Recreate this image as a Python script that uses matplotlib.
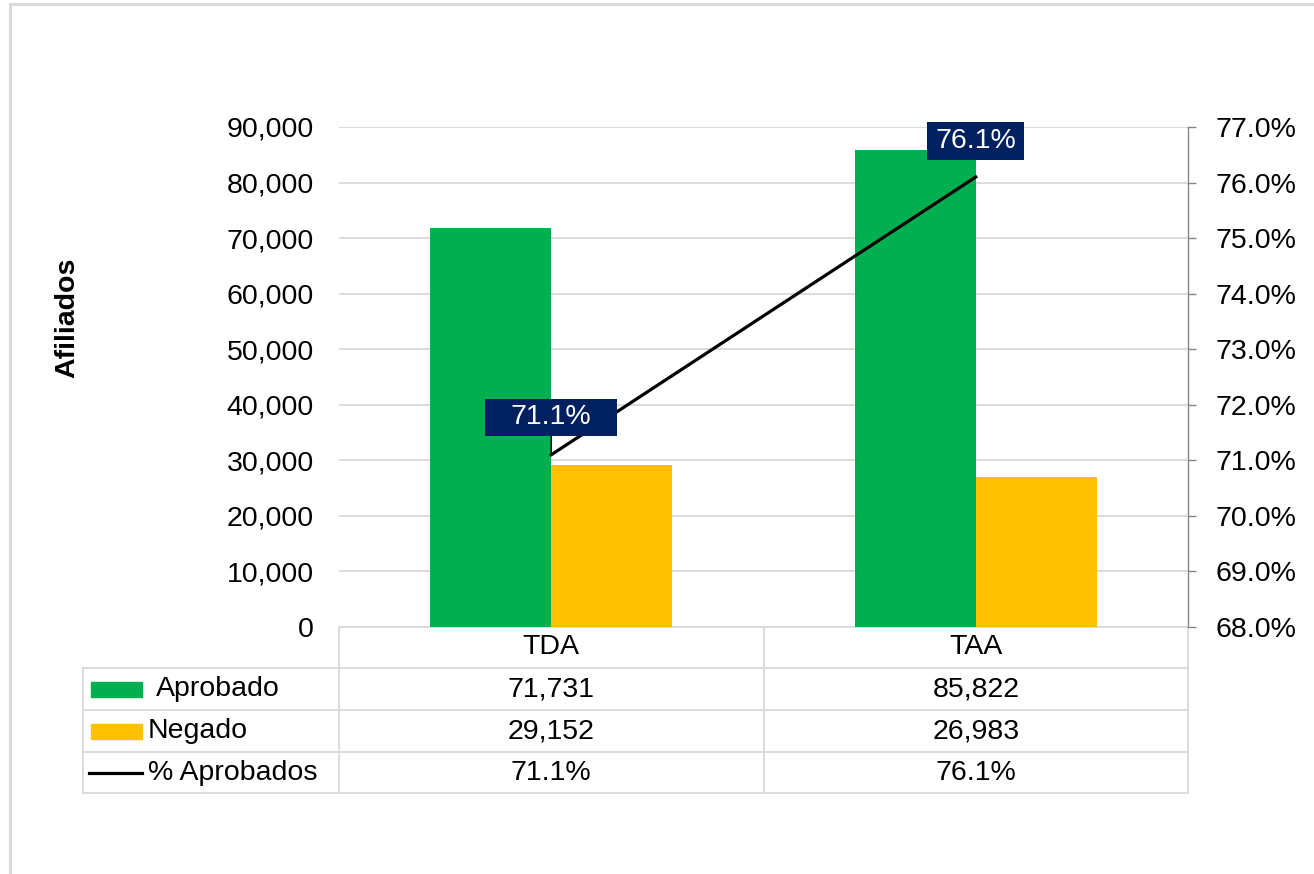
import matplotlib
matplotlib.use("Agg")
import matplotlib.pyplot as plt
from matplotlib.patches import Rectangle
from matplotlib.lines import Line2D
from matplotlib.ticker import FuncFormatter, MultipleLocator
from matplotlib.transforms import blended_transform_factory

plt.rcParams["font.family"] = ["Liberation Sans", "DejaVu Sans"]

# data
categories = ["TDA", "TAA"]
aprobado = [71731, 85822]
negado = [29152, 26983]
pct_aprobados = [0.711, 0.761]
series_names = ["Aprobado", "Negado", "% Aprobados"]

GREEN = "#00B050"
YELLOW = "#FFC000"
NAVY = "#002060"
GRID = "#D9D9D9"
FS = 20.5

W, H = 1314, 874
fig = plt.figure(figsize=(W / 100, H / 100), dpi=100)
ax = fig.add_axes([339 / W, 247 / H, 849 / W, 500 / H])
ax2 = ax.twinx()

x = list(range(len(categories)))
bw = 0.285
ax.bar([i - bw / 2 for i in x], aprobado, width=bw, color=GREEN, zorder=2)
ax.bar([i + bw / 2 for i in x], negado, width=bw, color=YELLOW, zorder=2)

ax.set_xlim(-0.5, len(categories) - 0.5)
ax.set_ylim(0, 90000)
ax.yaxis.set_major_locator(MultipleLocator(10000))
ax.yaxis.set_major_formatter(FuncFormatter(lambda v, p: f"{int(v):,}"))
ax.grid(axis="y", color=GRID, linewidth=1.3, zorder=0)
ax.set_axisbelow(True)
ax.set_xticks([])
ax.tick_params(axis="y", length=0, pad=18, labelsize=FS)
for s in ax.spines.values():
    s.set_visible(False)
ax.set_ylabel("Afiliados", fontsize=FS, fontweight="bold")
ax.yaxis.set_label_coords(-0.305, 0.618)

# secondary axis with percentage line
ax2.plot(x, pct_aprobados, color="black", linewidth=2.3, zorder=3)
ax2.set_ylim(0.68, 0.77)
ax2.yaxis.set_major_locator(MultipleLocator(0.01))
ax2.yaxis.set_major_formatter(FuncFormatter(lambda v, p: f"{v:.1%}"))
for name, s in ax2.spines.items():
    s.set_visible(name == "right")
ax2.spines["right"].set_color("#868686")
ax2.spines["right"].set_linewidth(1.0)
ax2.tick_params(axis="y", direction="out", length=6, width=1.0, color="#868686",
                pad=14, labelsize=FS)

# data labels (first one is wider and has a leader line)
label_style = [(0.9, 0.22, 27), (0.28, 0.75, 26)]
for i, p in enumerate(pct_aprobados):
    pad, aspect, off = label_style[i]
    kw = dict(arrowprops=dict(arrowstyle="-", color="black", lw=1.0,
                              shrinkA=0, shrinkB=0)) if i == 0 else {}
    t = ax2.annotate(f"{p:.1%}", xy=(i, p), xytext=(0, off),
                     textcoords="offset points", ha="center", va="center",
                     fontsize=FS, color="white", zorder=5,
                     bbox=dict(boxstyle=f"square,pad={pad}", fc=NAVY, ec="none"), **kw)
    t.get_bbox_patch().set_mutation_aspect(aspect)

# data table beneath the chart
tr = blended_transform_factory(ax.transData, ax.transAxes)
rows_y = [0, -0.082, -0.166, -0.25, -0.332]
x_left = -0.5 - (339 - 83) / 424.5
x_right = len(categories) - 0.5
lk = dict(color=GRID, linewidth=1.3, transform=tr, clip_on=False, zorder=1)

ax.add_line(Line2D([-0.5, x_right], [rows_y[0]] * 2, **lk))
for yy in rows_y[1:]:
    ax.add_line(Line2D([x_left, x_right], [yy] * 2, **lk))
ax.add_line(Line2D([x_left, x_left], [rows_y[1], rows_y[-1]], **lk))
for xv in [i - 0.5 for i in range(len(categories) + 1)]:
    ax.add_line(Line2D([xv, xv], [rows_y[0], rows_y[-1]], **lk))

def mid(r):
    return (rows_y[r] + rows_y[r + 1]) / 2

for i, c in enumerate(categories):
    ax.text(i, mid(0), c, transform=tr, ha="center", va="center", fontsize=FS)
    ax.text(i, mid(1), f"{aprobado[i]:,}", transform=tr, ha="center", va="center", fontsize=FS)
    ax.text(i, mid(2), f"{negado[i]:,}", transform=tr, ha="center", va="center", fontsize=FS)
    ax.text(i, mid(3), f"{pct_aprobados[i]:.1%}", transform=tr, ha="center", va="center", fontsize=FS)

# legend keys in the first column
kx0 = -0.5 - (339 - 91) / 424.5
kx1 = -0.5 - (339 - 142) / 424.5
for r, col in [(1, GREEN), (2, YELLOW)]:
    ax.add_patch(Rectangle((kx0, mid(r) - 0.015), kx1 - kx0, 0.03, transform=tr,
                           color=col, clip_on=False))
ax.add_line(Line2D([-0.5 - (339 - 89) / 424.5, kx1], [mid(3)] * 2, color="black",
                   linewidth=2.3, transform=tr, clip_on=False))
label_x = [-0.5 - (339 - 156) / 424.5, -0.5 - (339 - 148) / 424.5, -0.5 - (339 - 148) / 424.5]
for r, (nm, lx) in enumerate(zip(series_names, label_x), start=1):
    ax.text(lx, mid(r), nm, transform=tr, ha="left", va="center", fontsize=FS)

# outer chart border
fig.add_artist(Rectangle((10 / W, -0.1), 1.2, 1.1 - 4 / H, transform=fig.transFigure,
                         fill=False, ec=GRID, lw=2.2))

fig.savefig("out.png", dpi=100)
